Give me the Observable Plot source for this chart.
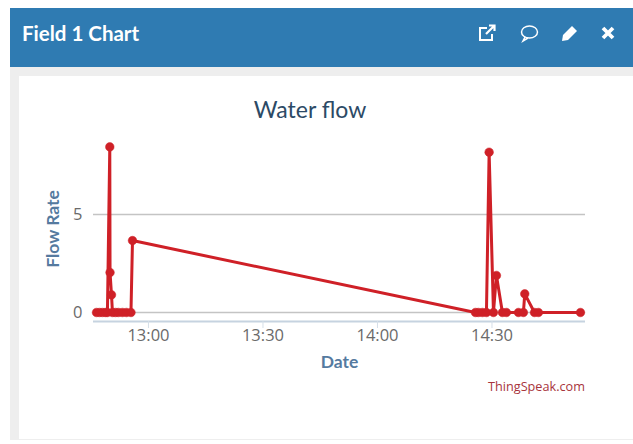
<!DOCTYPE html>
<html>
<head>
<meta charset="utf-8">
<script src="https://cdn.jsdelivr.net/npm/d3@7"></script>
<script src="https://cdn.jsdelivr.net/npm/@observablehq/plot@0.6"></script>
<style>
html,body{margin:0;padding:0;background:#fff;overflow:hidden}
#page{position:relative;width:633px;height:444px;font-family:"Open Sans",sans-serif}
#panel{position:absolute;left:10px;top:67px;width:623px;height:373px;background:#eeeeee}
#header{position:absolute;left:10px;top:8px;width:623px;height:59px;background:#2f7bb2;color:#fff;}
#header .t{position:absolute;left:12px;top:12px;font:bold 20.5px/26px Lato,sans-serif}
#header svg{position:absolute;top:15px;width:20px;height:20px;fill:none;stroke:#fff;stroke-width:2}
#card{position:absolute;left:19px;top:76px;width:614px;height:363px;background:#fff}
#chart{position:absolute;left:0;top:0}
#title{position:absolute;left:0;width:582px;top:18px;text-align:center;font:23px/30px Lato,sans-serif;color:#2c4a66}
#credit{position:absolute;right:48px;top:303px;font:12.7px/15px "Open Sans",sans-serif;color:#a8343c}
</style>
</head>
<body>
<div id="page">
  <div id="panel"></div>
  <div id="header">
    <div class="t">Field 1 Chart</div>
    <svg style="left:467px" viewBox="0 0 20 20"><path d="M15 11v6H3V5h7"/><path d="M9 11l8-8M12 2.500h5.500V8" stroke-width="2.200"/></svg>
    <svg style="left:509px" viewBox="0 0 20 20" stroke-width="1.500"><ellipse cx="10.500" cy="9" rx="8" ry="6" stroke-width="1.500"/><path d="M6 14l-2 4 5-3" stroke-width="1.500"/></svg>
    <svg style="left:550px" viewBox="0 0 20 20"><path d="M2 18l1-6 9-9 5 5-9 9z" fill="#fff" stroke="none"/></svg>
    <svg style="left:588px" viewBox="0 0 20 20"><path d="M5 5l10 10M15 5l-10 10" stroke-width="3.800"/></svg>
  </div>
  <div id="card">
    <div id="chart"></div>
    <div id="title">Water flow</div>
    <div id="credit">ThingSpeak.com</div>
  </div>
</div>
<script>
const times = [
  "12:46:23","12:47:10","12:47:57","12:48:44","12:49:15","12:49:52","12:49:56","12:50:19",
  "12:50:34","12:51:21","12:52:08","12:53:11","12:54:14","12:55:25","12:55:49",
  "14:25:40","14:26:27","14:27:30","14:28:33","14:29:15","14:30:23","14:31:10","14:32:44",
  "14:33:47","14:36:56","14:38:14","14:38:35","14:41:08","14:42:10","14:53:11"
];
const flow = [
  0,0,0,0,0,8.45,2.04,0.9,
  0,0,0,0,0,0,3.67,
  0,0,0,0,8.18,0,1.89,0,
  0,0,0,0.95,0,0,0
];
const xTicks = ["13:00","13:30","14:00","14:30"];
const yTicks = [0,5];
const xDomain = ["12:45:36","14:54:30"];

const toDate = s => new Date(`2020-01-01T${s.length===5 ? s+":00" : s}Z`);
const rows = times.map((t,i)=>({t:toDate(t),v:flow[i]}));
const red = "#cf2027";

const chart = Plot.plot({
  width:614, height:363,
  marginLeft:74, marginRight:48, marginTop:65.5, marginBottom:118,
  style:{background:"transparent",fontFamily:'"Open Sans",sans-serif',fontSize:"16.5px",overflow:"visible"},
  x:{type:"utc",domain:xDomain.map(toDate)},
  y:{domain:[-0.46,8.7]},
  marks:[
    Plot.ruleY(yTicks,{stroke:"#c4c4c4",strokeWidth:1.500}),
    Plot.ruleY([-0.46],{stroke:"#c6d3e0",strokeWidth:2}),
    Plot.axisX({
      ticks:xTicks.map(toDate), tickFormat:d3.utcFormat("%H:%M"),
      tickSize:7, stroke:"#d5dfe8", tickPadding:1, color:"#6a6a6a",
      label:"Date", labelAnchor:"center", labelArrow:"none", labelOffset:46
    }),
    Plot.axisY({
      ticks:yTicks, tickSize:0, tickPadding:11, color:"#6a6a6a",
      label:null
    }),
    Plot.line(rows,{x:"t",y:"v",stroke:red,strokeWidth:3,curve:"linear"}),
    Plot.dot(rows,{x:"t",y:"v",r:4.300,fill:red,stroke:red,strokeWidth:0.500})
  ]
});
document.getElementById("chart").appendChild(chart);
chart.querySelectorAll("text").forEach(t=>{
  if(t.textContent==="Date"){t.setAttribute("font-weight","bold");t.setAttribute("fill","#557a9f");t.style.fill="#557a9f";t.style.fontFamily="Lato,sans-serif";t.style.fontSize="17.5px";}
});
const svg = d3.select("#chart svg");
svg.append("text").text("Flow Rate")
  .attr("transform","translate(35.500,153) rotate(-90)")
  .attr("text-anchor","middle").attr("dominant-baseline","middle")
  .attr("font-weight","bold").attr("fill","#557a9f")
  .style("font-family","Lato,sans-serif").style("font-size","17.5px");
</script>
</body>
</html>
